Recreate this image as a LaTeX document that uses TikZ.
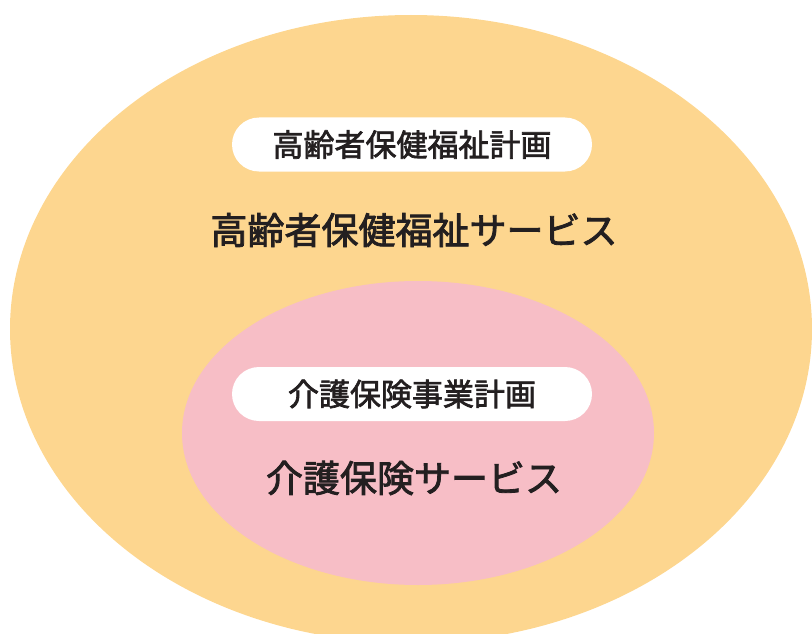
\documentclass[tikz,border=0pt]{standalone}
\usepackage{fontspec}
\newfontfamily\jpfont[FakeBold=2.2]{Noto Sans CJK JP}
\definecolor{outerfill}{RGB}{253,214,143}
\definecolor{innerfill}{RGB}{247,190,198}
\definecolor{inktext}{RGB}{35,31,32}
\tikzset{
  pill/.style={fill=white, rounded corners=27pt, minimum width=360pt, minimum height=54pt, inner sep=0pt, text=inktext, font=\jpfont\fontsize{31}{31}\selectfont},
  bigtext/.style={inner sep=0pt, text=inktext, font=\jpfont\fontsize{37}{37}\selectfont},
}
\begin{document}
\begin{tikzpicture}[x=1pt,y=-1pt]
\useasboundingbox (0,0) rectangle (812,634);
\clip (0,0) rectangle (812,634);
\fill[outerfill] (411,329) ellipse [x radius=401pt, y radius=314pt];
\fill[innerfill] (418,433) ellipse [x radius=236pt, y radius=152pt];
\node[pill] (plan1) at (412,144.5) {高齢者保健福祉計画};
\node[bigtext] (svc1) at (414,230) {高齢者保健福祉サービス};
\node[pill] (plan2) at (412,394) {介護保険事業計画};
\node[bigtext] (svc2) at (414,478) {介護保険サービス};
\end{tikzpicture}
\end{document}
